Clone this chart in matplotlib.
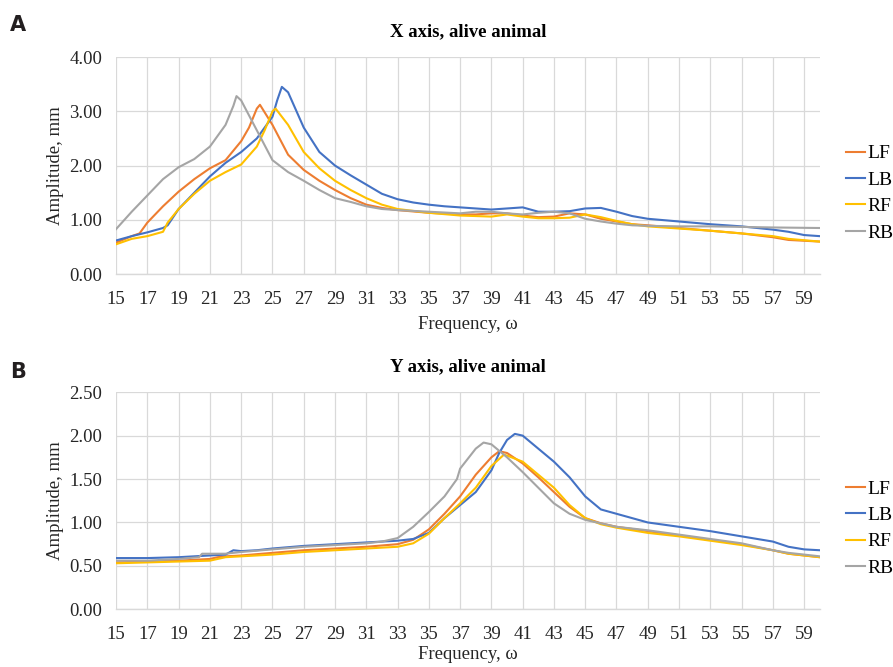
import matplotlib as mpl
mpl.use('Agg')
import matplotlib.pyplot as plt

# Panel A: X axis, alive animal (frequency, amplitude mm)
xa_lf = [15, 16, 16.5, 17, 18, 19, 20, 21, 22, 23, 23.5, 24, 24.2, 25, 26, 27, 28, 29, 30, 31, 32, 33,
         35, 37, 38, 39, 40, 41, 42, 43, 44, 45, 46, 47, 48, 49, 51, 53, 55, 57, 58, 60]
ya_lf = [0.58, 0.70, 0.75, 0.95, 1.25, 1.52, 1.75, 1.95, 2.10, 2.45, 2.70, 3.05, 3.12, 2.75, 2.20, 1.92,
         1.72, 1.55, 1.40, 1.28, 1.22, 1.18, 1.13, 1.10, 1.10, 1.12, 1.12, 1.08, 1.05, 1.06, 1.12, 1.10,
         1.02, 0.97, 0.92, 0.90, 0.85, 0.80, 0.75, 0.68, 0.63, 0.60]

xa_lb = [15, 16, 17, 18, 18.3, 19, 20, 21, 22, 23, 24, 25, 25.3, 25.6, 26, 27, 28, 29, 30, 31, 32, 33,
         34, 35, 36, 37, 39, 41, 42, 43, 44, 45, 46, 47, 48, 49, 51, 53, 55, 57, 58, 59, 60]
ya_lb = [0.62, 0.70, 0.77, 0.85, 0.90, 1.20, 1.50, 1.80, 2.05, 2.25, 2.50, 2.90, 3.20, 3.45, 3.35, 2.70,
         2.25, 2.00, 1.82, 1.65, 1.48, 1.38, 1.32, 1.28, 1.25, 1.23, 1.19, 1.23, 1.15, 1.15, 1.16, 1.21,
         1.22, 1.15, 1.07, 1.02, 0.97, 0.92, 0.88, 0.82, 0.78, 0.72, 0.70]

xa_rf = [15, 16, 17, 18, 18.3, 19, 20, 21, 22, 23, 24, 24.5, 25, 25.2, 26, 27, 28, 29, 30, 31, 32, 33,
         35, 37, 39, 40, 41, 42, 43, 44, 45, 46, 47, 48, 49, 51, 53, 55, 57, 58, 60]
ya_rf = [0.55, 0.65, 0.70, 0.78, 0.95, 1.20, 1.48, 1.72, 1.88, 2.02, 2.35, 2.65, 3.00, 3.05, 2.75, 2.25,
         1.95, 1.72, 1.55, 1.40, 1.28, 1.20, 1.13, 1.08, 1.06, 1.10, 1.06, 1.03, 1.03, 1.04, 1.10, 1.05,
         0.98, 0.92, 0.88, 0.84, 0.80, 0.75, 0.70, 0.65, 0.60]

xa_rb = [15, 16, 17, 18, 19, 20, 21, 22, 22.5, 22.7, 23, 24, 25, 26, 27, 28, 29, 30, 31, 32, 33, 35,
         37, 38, 39, 40, 41, 42, 43, 44, 45, 46, 47, 48, 49, 51, 53, 55, 57, 60]
ya_rb = [0.83, 1.15, 1.45, 1.75, 1.97, 2.12, 2.35, 2.75, 3.10, 3.28, 3.20, 2.65, 2.10, 1.88, 1.72, 1.55,
         1.40, 1.33, 1.25, 1.20, 1.18, 1.15, 1.12, 1.15, 1.15, 1.12, 1.10, 1.13, 1.15, 1.12, 1.02, 0.97,
         0.93, 0.90, 0.89, 0.88, 0.88, 0.87, 0.86, 0.85]

# Panel B: Y axis, alive animal
xb_lf = [15, 17, 19, 21, 21.5, 22, 23, 25, 27, 29, 31, 33, 34, 35, 36, 37, 38, 39, 39.5, 40, 41, 42,
         43, 44, 45, 46, 47, 49, 51, 53, 55, 57, 58, 60]
yb_lf = [0.54, 0.55, 0.56, 0.58, 0.60, 0.61, 0.62, 0.65, 0.68, 0.70, 0.72, 0.75, 0.80, 0.92, 1.10, 1.30,
         1.55, 1.75, 1.82, 1.80, 1.68, 1.52, 1.35, 1.18, 1.05, 0.99, 0.95, 0.90, 0.85, 0.80, 0.75, 0.68,
         0.64, 0.60]

xb_lb = [15, 17, 19, 21, 22, 22.5, 23, 24, 25, 27, 29, 31, 33, 34, 35, 36, 37, 38, 39, 39.5, 40, 40.5,
         41, 42, 43, 44, 45, 46, 47, 48, 49, 51, 53, 55, 57, 58, 59, 60]
yb_lb = [0.59, 0.59, 0.60, 0.62, 0.63, 0.68, 0.67, 0.68, 0.70, 0.73, 0.75, 0.77, 0.79, 0.81, 0.88, 1.05,
         1.20, 1.35, 1.60, 1.80, 1.95, 2.02, 2.00, 1.85, 1.70, 1.52, 1.30, 1.15, 1.10, 1.05, 1.00, 0.95,
         0.90, 0.84, 0.78, 0.72, 0.69, 0.68]

xb_rf = [15, 17, 19, 21, 21.5, 22, 23, 25, 27, 29, 31, 33, 34, 35, 36, 37, 38, 39, 39.8, 40, 41, 42,
         43, 44, 45, 46, 47, 49, 51, 53, 55, 57, 58, 60]
yb_rf = [0.53, 0.54, 0.55, 0.56, 0.58, 0.60, 0.61, 0.63, 0.66, 0.68, 0.70, 0.72, 0.76, 0.87, 1.05, 1.22,
         1.40, 1.65, 1.78, 1.77, 1.70, 1.55, 1.40, 1.20, 1.05, 0.98, 0.94, 0.88, 0.84, 0.79, 0.74, 0.68,
         0.64, 0.60]

xb_rb = [15, 17, 19, 20.3, 20.5, 21, 22, 23, 25, 27, 29, 31, 32, 33, 34, 35, 36, 36.8, 37, 38, 38.5, 39,
         40, 41, 42, 43, 44, 45, 46, 47, 49, 51, 53, 55, 57, 58, 60]
yb_rb = [0.56, 0.56, 0.58, 0.60, 0.64, 0.64, 0.64, 0.66, 0.69, 0.72, 0.74, 0.76, 0.78, 0.82, 0.95, 1.12,
         1.30, 1.50, 1.62, 1.85, 1.92, 1.90, 1.75, 1.58, 1.40, 1.22, 1.10, 1.03, 0.99, 0.95, 0.91, 0.86,
         0.81, 0.76, 0.68, 0.65, 0.61]

labels = ['LF', 'LB', 'RF', 'RB']
colors = ['#ED7D31', '#4472C4', '#FFC000', '#A5A5A5']
xticks = list(range(15, 60, 2))

plt.rcParams['font.family'] = ['Liberation Serif', 'DejaVu Serif']
TEXT = '#262626'
GRID = '#D9D9D9'
FS = 13.5

fig = plt.figure(figsize=(8.93, 6.67), dpi=100)
ax_a = fig.add_axes([0.130, 0.589, 0.788, 0.3255])
ax_b = fig.add_axes([0.130, 0.0865, 0.788, 0.3255])

panels = [
    (ax_a, 'X axis, alive animal', [(xa_lf, ya_lf), (xa_lb, ya_lb), (xa_rf, ya_rf), (xa_rb, ya_rb)],
     4.0, 1.0, 'A', 0.963, 6),
    (ax_b, 'Y axis, alive animal', [(xb_lf, yb_lf), (xb_lb, yb_lb), (xb_rf, yb_rf), (xb_rb, yb_rb)],
     2.5, 0.5, 'B', 0.442, 2),
]

for ax, title, series, ymax, ystep, letter, ly, xlpad in panels:
    for (xs, ys), lab, col in zip(series, labels, colors):
        ax.plot(xs, ys, color=col, lw=1.5, label=lab, solid_joinstyle='round')
    ax.set_xlim(15, 60)
    ax.set_ylim(0, ymax)
    ax.set_xticks(xticks)
    yt = [i * ystep for i in range(int(round(ymax / ystep)) + 1)]
    ax.set_yticks(yt)
    ax.set_yticklabels(['%.2f' % v for v in yt])
    ax.grid(True, color=GRID, lw=0.9)
    ax.set_axisbelow(True)
    for s in ['top', 'right', 'left']:
        ax.spines[s].set_visible(False)
    ax.spines['bottom'].set_color(GRID)
    ax.spines['bottom'].set_linewidth(1.0)
    ax.tick_params(axis='x', length=0, labelsize=FS, colors=TEXT, pad=12)
    ax.tick_params(axis='y', length=0, labelsize=FS, colors=TEXT, pad=10)
    ax.set_ylabel('Amplitude, mm', fontsize=FS, color=TEXT, labelpad=4)
    ax.set_xlabel('Frequency, ω', fontsize=FS, color=TEXT, labelpad=xlpad)
    ax.set_title(title, fontsize=FS, fontweight='bold', color='black', pad=15)
    ax.legend(loc='center left', bbox_to_anchor=(1.037, 0.373), frameon=False, fontsize=14,
              handlelength=1.0, handletextpad=0.1, labelspacing=0.45, borderaxespad=0,
              borderpad=0)
    fig.text(0.011, ly, letter, fontsize=15, fontweight='bold',
             family='DejaVu Sans', color='#231F20', va='center')

fig.savefig('out.png', dpi=100)
